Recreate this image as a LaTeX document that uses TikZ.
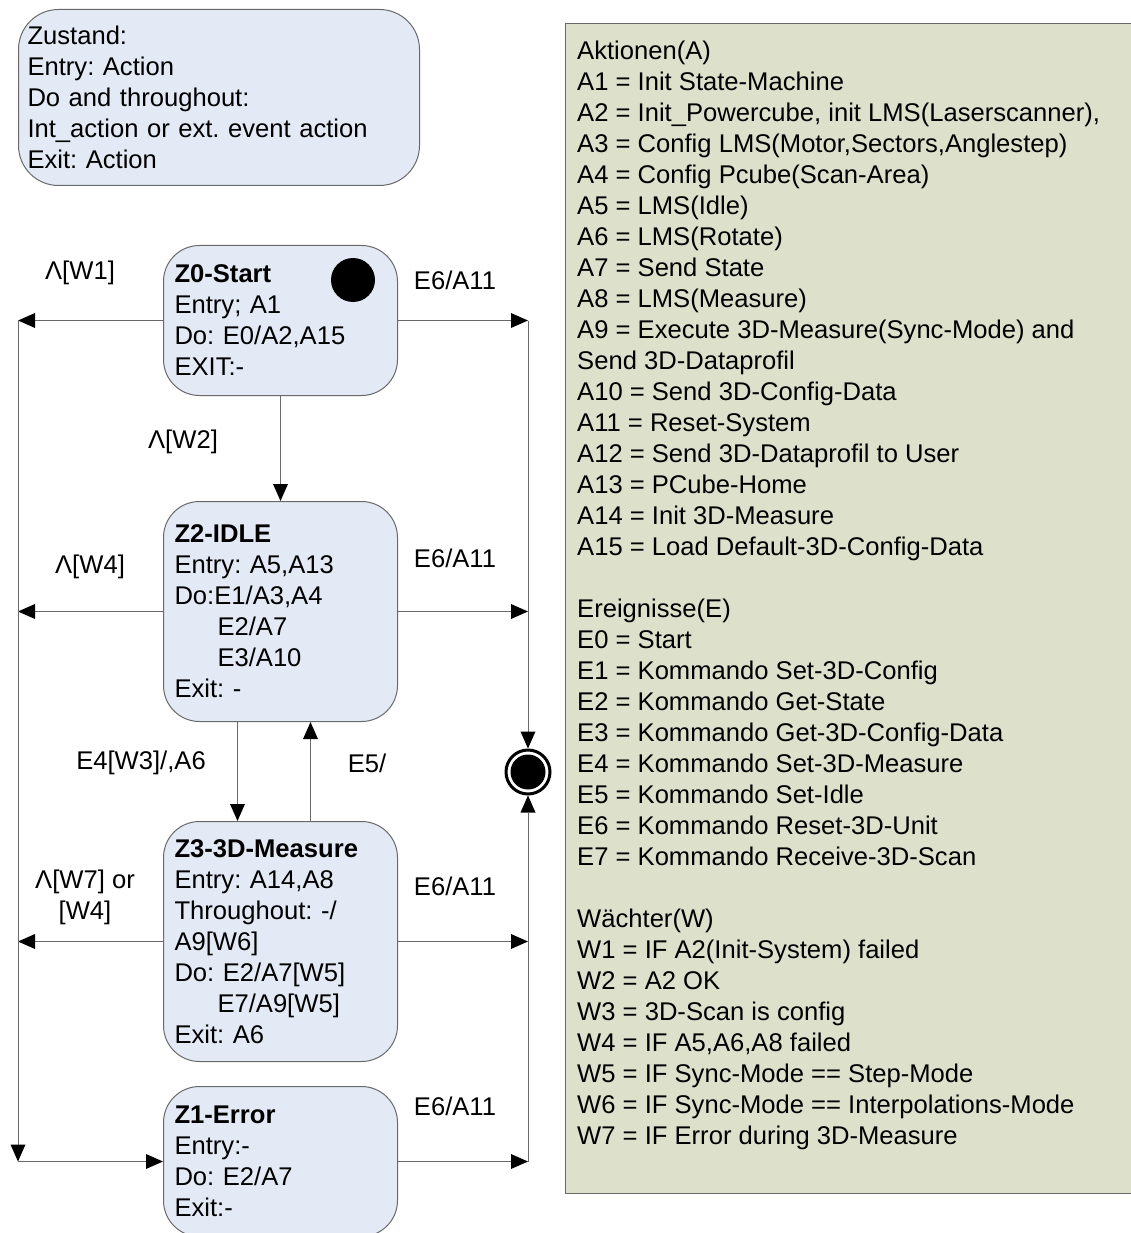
\documentclass[tikz,border=0pt]{standalone}
\usepackage{fontspec}
\setmainfont{Liberation Sans}
\usetikzlibrary{arrows.meta}
\definecolor{statefill}{RGB}{227,234,246}
\definecolor{notefill}{RGB}{221,225,204}
\definecolor{edgegrey}{RGB}{105,105,105}
\frenchspacing
\begin{document}
\begin{tikzpicture}[x=1pt,y=-1pt,
  every node/.style={font=\fontsize{25.6}{31}\selectfont},
  statebox/.style={draw=edgegrey, line width=1pt, fill=statefill, rounded corners=36pt,
    minimum width=234pt, text width=212pt, align=left, inner xsep=11pt, inner ysep=0pt, anchor=north west},
  conn/.style={draw=edgegrey, line width=1pt, -{Triangle[length=17pt,width=15pt,fill=black,color=black,line width=0pt]}},
  lbl/.style={align=center, inner sep=0pt}]
\useasboundingbox (0,0) rectangle (1131,1233);
\fill[white] (0,0) rectangle (1131,1233);

% legend
\node[draw=edgegrey, line width=1pt, fill=statefill, rounded corners=40pt, anchor=north west,
  minimum width=401pt, minimum height=176pt, text width=383pt, inner xsep=9pt, align=left] (legend) at (18,9)
  {Zustand:\\Entry: Action\\Do and throughout:\\Int\_action or ext. event action\\Exit: Action};

% notes box
\node[draw=edgegrey, line width=1pt, fill=notefill, anchor=north west, minimum width=590pt, minimum height=1170pt, inner sep=0pt] (notes) at (565,23) {};
\node[anchor=north west, align=left, inner sep=0pt] (notestext) at (577,41)
  {Aktionen(A)\\
   A1 = Init State-Machine\\
   A2 = Init\_Powercube, init LMS(Laserscanner),\\
   A3 = Config LMS(Motor,Sectors,Anglestep)\\
   A4 = Config Pcube(Scan-Area)\\
   A5 = LMS(Idle)\\
   A6 = LMS(Rotate)\\
   A7 = Send State\\
   A8 = LMS(Measure)\\
   A9 = Execute 3D-Measure(Sync-Mode) and\\
   Send 3D-Dataprofil\\
   A10 = Send 3D-Config-Data\\
   A11 = Reset-System\\
   A12 = Send 3D-Dataprofil to User\\
   A13 = PCube-Home\\
   A14 = Init 3D-Measure\\
   A15 = Load Default-3D-Config-Data\\[31pt]
   Ereignisse(E)\\
   E0 = Start\\
   E1 = Kommando Set-3D-Config\\
   E2 = Kommando Get-State\\
   E3 = Kommando Get-3D-Config-Data\\
   E4 = Kommando Set-3D-Measure\\
   E5 = Kommando Set-Idle\\
   E6 = Kommando Reset-3D-Unit\\
   E7 = Kommando Receive-3D-Scan\\[31pt]
   Wächter(W)\\
   W1 = IF A2(Init-System) failed\\
   W2 = A2 OK\\
   W3 = 3D-Scan is config\\
   W4 = IF A5,A6,A8 failed\\
   W5 = IF Sync-Mode == Step-Mode\\
   W6 = IF Sync-Mode == Interpolations-Mode\\
   W7 = IF Error during 3D-Measure};

% states
\node[statebox, minimum height=150pt] (Z0) at (163,245)
  {\textbf{Z0-Start}\\Entry; A1\\Do: E0/A2,A15\\EXIT:-};
\node[circle, fill=black, minimum size=44pt, inner sep=0pt] (S) at (353,280) {};
\node[statebox, minimum height=220pt] (Z2) at (163,501)
  {\textbf{Z2-IDLE}\\Entry: A5,A13\\Do:E1/A3,A4\\\hspace*{43pt}E2/A7\\\hspace*{43pt}E3/A10\\Exit: -};
\node[statebox, minimum height=240pt] (Z3) at (163,821)
  {\textbf{Z3-3D-Measure}\\Entry: A14,A8\\Throughout: -/\\A9[W6]\\Do: E2/A7[W5]\\\hspace*{43pt}E7/A9[W5]\\Exit: A6};
\node[statebox, minimum height=150pt] (Z1) at (163,1086)
  {\textbf{Z1-Error}\\Entry:-\\Do: E2/A7\\Exit:-};

% final state
\node[circle, draw=black, line width=3pt, fill=white, minimum size=44pt, inner sep=0pt,
  path picture={\fill[black] (path picture bounding box.center) circle (17.5pt);}] (F) at (528,772) {};

\coordinate (Lx) at (18,0);
\coordinate (Rx) at (528,0);

% left side
\draw[conn] (Z0.west) -- (Z0.west -| Lx);
\draw[conn] (Z2.west) -- (Z2.west -| Lx);
\draw[conn] (Z3.west) -- (Z3.west -| Lx);
\draw[conn] (Z0.west -| Lx) -- (Z1.west -| Lx);
\draw[conn] (Z1.west -| Lx) -- (Z1.west);

% right side
\draw[conn] (Z0.east) -- (Z0.east -| Rx);
\draw[conn] (Z2.east) -- (Z2.east -| Rx);
\draw[conn] (Z3.east) -- (Z3.east -| Rx);
\draw[conn] (Z1.east) -- (Z1.east -| Rx);
\draw[conn] (Z0.east -| Rx) -- (F.north);
\draw[conn] (Z1.east -| Rx) -- (F.south);

% vertical transitions
\draw[conn] (Z0.south) -- (Z2.north);
\draw[conn] ([xshift=-43pt]Z2.south) -- ([xshift=-43pt]Z3.north);
\draw[conn] ([xshift=30pt]Z3.north) -- ([xshift=30pt]Z2.south);

% labels
\node[lbl] (t1) at (80,273) {Λ[W1]};
\node[lbl] (t2) at (455,280) {E6/A11};
\node[lbl] (t3) at (183,442) {Λ[W2]};
\node[lbl] (t4) at (90,567) {Λ[W4]};
\node[lbl] (t5) at (455,558) {E6/A11};
\node[lbl] (t6) at (141,763) {E4[W3]/,A6};
\node[lbl] (t7) at (367,763) {E5/};
\node[lbl] (t8) at (85,897) {Λ[W7] or\\\relax [W4]};
\node[lbl] (t9) at (455,886) {E6/A11};
\node[lbl] (t10) at (455,1106) {E6/A11};
\end{tikzpicture}
\end{document}
